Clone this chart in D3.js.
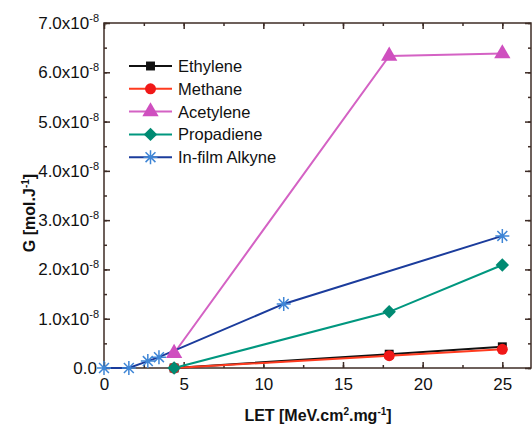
<html>
<head>
<script src="https://d3js.org/d3.v7.min.js"></script>
<style>
  body { margin: 0; background: #fff; }
  text { font-family: "Liberation Sans", Arial, sans-serif; }
</style>
</head>
<body>
<svg id="chart" width="532" height="426"></svg>
<script>
  // data (G in units of 1e-8 mol/J)
  var ethyleneX = [4.4, 17.9, 25.0];
  var ethyleneY = [0.0, 0.28, 0.43];
  var methaneX = [4.4, 17.9, 25.0];
  var methaneY = [0.0, 0.25, 0.38];
  var acetyleneX = [4.4, 17.9, 25.0];
  var acetyleneY = [0.3, 6.33, 6.38];
  var propadieneX = [4.4, 17.9, 25.0];
  var propadieneY = [0.0, 1.14, 2.09];
  var alkyneX = [0, 1.56, 2.75, 3.45, 11.28, 25.0];
  var alkyneY = [0, 0, 0.14, 0.22, 1.3, 2.68];

  var xTicks = [0, 5, 10, 15, 20, 25];
  var yTicks = [0, 1, 2, 3, 4, 5, 6, 7];
  var seriesNames = ["Ethylene", "Methane", "Acetylene", "Propadiene", "In-film Alkyne"];

  var margin = {top: 23, right: 1, bottom: 58, left: 104},
      width = 532 - margin.left - margin.right,
      height = 426 - margin.top - margin.bottom;

  var svg = d3.select("#chart")
    .append("g")
      .attr("transform", "translate(" + margin.left + "," + margin.top + ")");

  var x = d3.scaleLinear().domain([0, 26.8]).range([0, width]);
  var y = d3.scaleLinear().domain([0, 7]).range([height, 0]);

  var axisColor = "#3e2c26";

  function styleAxis(g) {
    g.select(".domain").remove();
    g.selectAll("line").attr("stroke", axisColor).attr("stroke-width", 1.5);
    g.selectAll("text").attr("fill", "#111").style("font-size", "17px");
  }

  var xMinor = d3.range(0, 26.8, 2.5);
  var yMinor = d3.range(0, 7.01, 0.5);

  // bottom
  svg.append("g").attr("transform", "translate(0," + height + ")")
    .call(d3.axisBottom(x).tickValues(xMinor).tickSize(-3).tickFormat(""))
    .call(styleAxis);
  svg.append("g").attr("transform", "translate(0," + height + ")")
    .call(d3.axisBottom(x).tickValues(xTicks).tickSize(-6).tickPadding(10).tickFormat(d3.format("d")))
    .call(styleAxis);
  // top
  svg.append("g")
    .call(d3.axisTop(x).tickValues(xMinor).tickSize(-3).tickFormat(""))
    .call(styleAxis);
  svg.append("g")
    .call(d3.axisTop(x).tickValues(xTicks).tickSize(-6).tickFormat(""))
    .call(styleAxis);
  // left
  svg.append("g")
    .call(d3.axisLeft(y).tickValues(yMinor).tickSize(-3).tickFormat(""))
    .call(styleAxis);
  var yAx = svg.append("g")
    .call(d3.axisLeft(y).tickValues(yTicks).tickSize(-6).tickPadding(5))
    .call(styleAxis);
  yAx.selectAll("text").each(function(d) {
    var t = d3.select(this).text("");
    if (d === 0) {
      t.attr("dx", "-2").text("0.0");
    } else {
      t.append("tspan").text(d.toFixed(1) + "x10");
      t.append("tspan").attr("dy", "-7").style("font-size", "11px").text("-8");
    }
  });
  // right
  svg.append("g").attr("transform", "translate(" + width + ",0)")
    .call(d3.axisRight(y).tickValues(yMinor).tickSize(-3).tickFormat(""))
    .call(styleAxis);
  svg.append("g").attr("transform", "translate(" + width + ",0)")
    .call(d3.axisRight(y).tickValues(yTicks).tickSize(-6).tickFormat(""))
    .call(styleAxis);

  // frame
  svg.append("rect")
    .attr("x", 0).attr("y", 0).attr("width", width).attr("height", height)
    .attr("fill", "none").attr("stroke", axisColor).attr("stroke-width", 1.5);

  var series = [
    {name: seriesNames[0], xs: ethyleneX, ys: ethyleneY, line: "#111111", mark: "#111111", sym: "square"},
    {name: seriesNames[1], xs: methaneX, ys: methaneY, line: "#ff3b1f", mark: "#f01818", sym: "circle"},
    {name: seriesNames[2], xs: acetyleneX, ys: acetyleneY, line: "#d462c4", mark: "#cf4fbf", sym: "triangle"},
    {name: seriesNames[3], xs: propadieneX, ys: propadieneY, line: "#00977f", mark: "#008a72", sym: "diamond"},
    {name: seriesNames[4], xs: alkyneX, ys: alkyneY, line: "#1b3c9c", mark: "#3f86d6", sym: "star"}
  ];

  function drawMarker(g, s, cx, cy) {
    if (s.sym === "star") {
      var r = 7;
      var p = "";
      [0, 45, 90, 135].forEach(function(a) {
        var dx = r * Math.cos(a * Math.PI / 180), dy = r * Math.sin(a * Math.PI / 180);
        p += "M" + (cx - dx) + "," + (cy - dy) + "L" + (cx + dx) + "," + (cy + dy);
      });
      g.append("path").attr("d", p).attr("stroke", s.mark).attr("stroke-width", 1.5).attr("fill", "none");
      return;
    }
    var types = {square: d3.symbolSquare, circle: d3.symbolCircle, triangle: d3.symbolTriangle, diamond: d3.symbolSquare};
    var sizes = {square: 80, circle: 95, triangle: 115, diamond: 90};
    g.append("path")
      .attr("d", d3.symbol().type(types[s.sym]).size(sizes[s.sym])())
      .attr("transform", "translate(" + cx + "," + cy + ")" + (s.sym === "diamond" ? " rotate(45)" : ""))
      .attr("fill", s.mark);
  }

  var line = d3.line().x(function(d) { return x(d[0]); }).y(function(d) { return y(d[1]); });

  series.forEach(function(s) {
    var pts = s.xs.map(function(v, i) { return [v, s.ys[i]]; });
    svg.append("path").datum(pts)
      .attr("fill", "none").attr("stroke", s.line).attr("stroke-width", 2)
      .attr("d", line);
  });
  series.forEach(function(s) {
    var g = svg.append("g");
    s.xs.forEach(function(v, i) { drawMarker(g, s, x(v), y(s.ys[i])); });
  });

  // legend
  var legend = svg.append("g").attr("transform", "translate(25,43)");
  series.forEach(function(s, i) {
    var row = legend.append("g").attr("transform", "translate(0," + (i * 22.8) + ")");
    row.append("line").attr("x1", 0).attr("x2", 43).attr("y1", 0).attr("y2", 0)
      .attr("stroke", s.line).attr("stroke-width", 2);
    drawMarker(row, s, 21.5, 0);
    row.append("text").attr("x", 49).attr("y", 6).style("font-size", "16.5px").attr("fill", "#111").text(s.name);
  });

  // axis titles
  var xt = d3.select("#chart").append("text")
    .attr("x", 318).attr("y", 421).attr("text-anchor", "middle")
    .style("font-size", "16px").style("font-weight", "bold").attr("fill", "#111");
  xt.append("tspan").text("LET [MeV.cm");
  xt.append("tspan").attr("dy", "-6").style("font-size", "10px").text("2");
  xt.append("tspan").attr("dy", "6").text(".mg");
  xt.append("tspan").attr("dy", "-6").style("font-size", "10px").text("-1");
  xt.append("tspan").attr("dy", "6").text("]");

  var yt = d3.select("#chart").append("text")
    .attr("transform", "translate(35,213) rotate(-90)").attr("text-anchor", "middle")
    .style("font-size", "16px").style("font-weight", "bold").attr("fill", "#111");
  yt.append("tspan").text("G [mol.J");
  yt.append("tspan").attr("dy", "-6").style("font-size", "10px").text("-1");
  yt.append("tspan").attr("dy", "6").text("]");
</script>
</body>
</html>
